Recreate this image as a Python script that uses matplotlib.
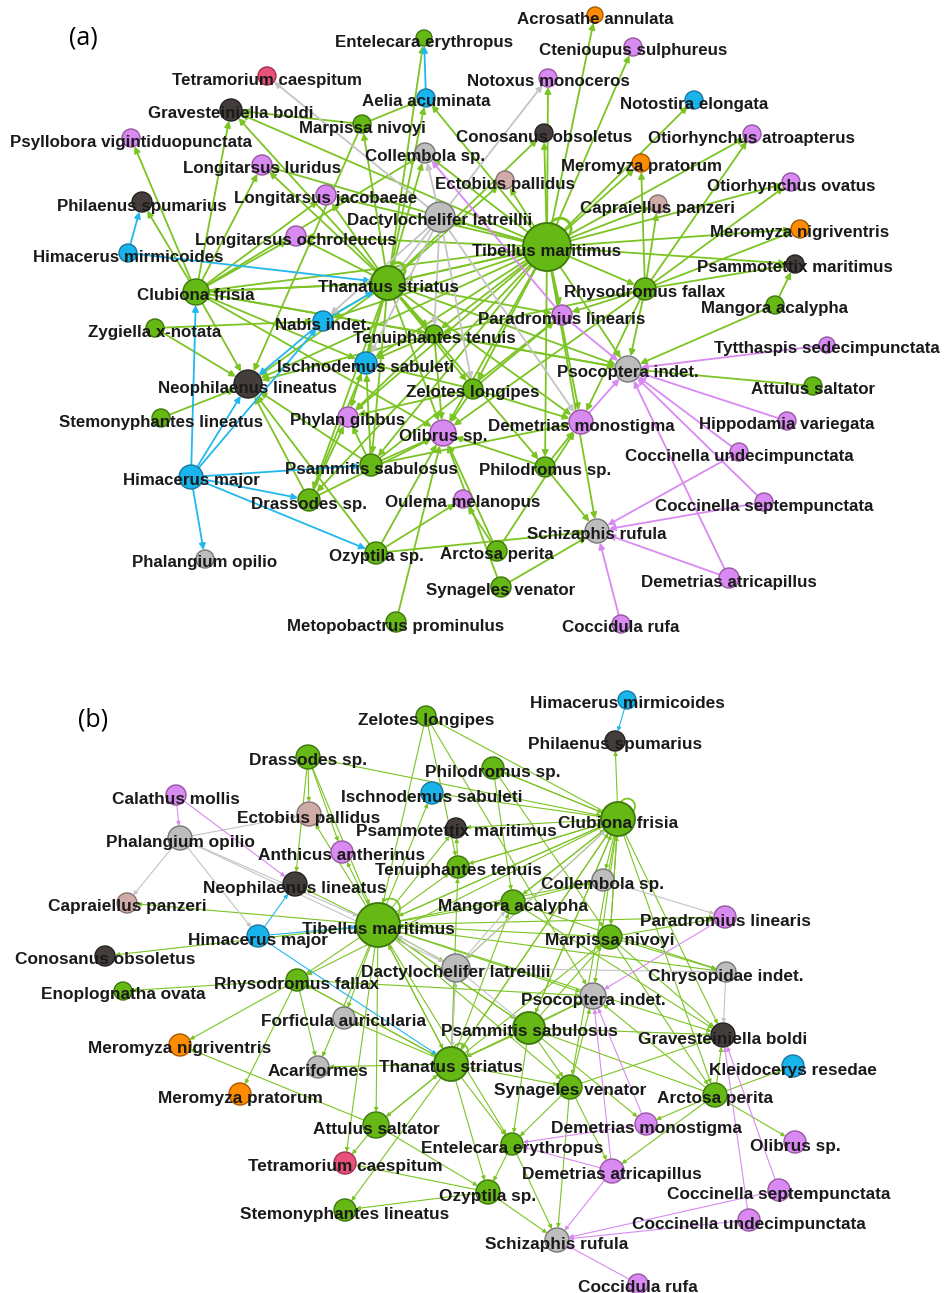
import numpy as np
import matplotlib.pyplot as plt
from matplotlib.patches import Circle

# ---------------- colours per taxon group ----------------
fill = {'g': '#66b814', 'v': '#d98af2', 'c': '#18b4ec', 'd': '#433e3b',
        'y': '#bdbdbd', 't': '#cfaca8', 'o': '#ff8c00', 'r': '#e9507a'}
rim = {'g': '#3b780c', 'v': '#96579f', 'c': '#1c77a0', 'd': '#222222',
       'y': '#777777', 't': '#8a7070', 'o': '#a85800', 'r': '#a03050'}
line = {'g': '#7cc424', 'v': '#d98af2', 'c': '#22b8ee', 'y': '#c4c4c4',
        'd': '#888888', 't': '#c4a0a0', 'o': '#ff8c00', 'r': '#e9507a'}

# ---------------- panel (a) ----------------
# name: (x, y, group, radius)   layout (pixels)
nodes_a = {
    'Acrosathe annulata': (595, 15, 'o', 8),
    'Entelecara erythropus': (424, 38, 'g', 8),
    'Ctenioupus sulphureus': (633, 47, 'v', 9),
    'Tetramorium caespitum': (267, 76, 'r', 9),
    'Notoxus monoceros': (548, 78, 'v', 9),
    'Aelia acuminata': (426, 98, 'c', 9),
    'Notostira elongata': (694, 100, 'c', 9),
    'Gravesteiniella boldi': (231, 110, 'd', 11),
    'Marpissa nivoyi': (362, 124, 'g', 9),
    'Conosanus obsoletus': (544, 133, 'd', 9),
    'Otiorhynchus atroapterus': (752, 134, 'v', 9),
    'Psyllobora vigintiduopunctata': (131, 138, 'v', 9),
    'Collembola sp.': (425, 153, 'y', 10),
    'Meromyza pratorum': (641, 163, 'o', 9),
    'Longitarsus luridus': (262, 165, 'v', 10),
    'Ectobius pallidus': (505, 180, 't', 9),
    'Otiorhynchus ovatus': (791, 182, 'v', 9),
    'Longitarsus jacobaeae': (326, 195, 'v', 10),
    'Philaenus spumarius': (142, 202, 'd', 10),
    'Capraiellus panzeri': (658, 204, 't', 9),
    'Dactylochelifer latreillii': (440, 217, 'y', 15),
    'Longitarsus ochroleucus': (296, 236, 'v', 10),
    'Meromyza nigriventris': (800, 229, 'o', 9),
    'Tibellus maritimus': (547, 247, 'g', 24),
    'Himacerus mirmicoides': (128, 253, 'c', 9),
    'Psammotettix maritimus': (795, 264, 'd', 9),
    'Thanatus striatus': (388, 283, 'g', 17),
    'Clubiona frisia': (196, 292, 'g', 13),
    'Rhysodromus fallax': (645, 289, 'g', 11),
    'Mangora acalypha': (775, 305, 'g', 9),
    'Paradromius linearis': (562, 315, 'v', 10),
    'Nabis indet.': (323, 321, 'c', 10),
    'Zygiella x-notata': (155, 328, 'g', 9),
    'Tenuiphantes tenuis': (434, 334, 'g', 9),
    'Tytthaspis sedecimpunctata': (827, 345, 'v', 8),
    'Ischnodemus sabuleti': (366, 363, 'c', 11),
    'Psocoptera indet.': (628, 369, 'y', 13),
    'Neophilaenus lineatus': (248, 384, 'd', 14),
    'Zelotes longipes': (473, 389, 'g', 10),
    'Attulus saltator': (813, 386, 'g', 9),
    'Stemonyphantes lineatus': (161, 418, 'g', 9),
    'Phylan gibbus': (348, 417, 'v', 10),
    'Olibrus sp.': (443, 433, 'v', 13),
    'Demetrias monostigma': (581, 422, 'v', 12),
    'Hippodamia variegata': (787, 421, 'v', 9),
    'Coccinella undecimpunctata': (739, 452, 'v', 9),
    'Psammitis sabulosus': (371, 465, 'g', 11),
    'Philodromus sp.': (545, 467, 'g', 10),
    'Himacerus major': (191, 477, 'c', 12),
    'Drassodes sp.': (309, 500, 'g', 11),
    'Oulema melanopus': (463, 499, 'v', 9),
    'Coccinella septempunctata': (764, 502, 'v', 9),
    'Schizaphis rufula': (597, 531, 'y', 12),
    'Ozyptila sp.': (376, 553, 'g', 11),
    'Arctosa perita': (497, 551, 'g', 10),
    'Phalangium opilio': (205, 559, 'y', 9),
    'Demetrias atricapillus': (729, 578, 'v', 10),
    'Synageles venator': (501, 587, 'g', 10),
    'Metopobactrus prominulus': (396, 622, 'g', 10),
    'Coccidula rufa': (621, 624, 'v', 9),
}

edges_a = {
    'Tibellus maritimus': ['Acrosathe annulata', 'Ctenioupus sulphureus', 'Notoxus monoceros',
        'Conosanus obsoletus', 'Meromyza pratorum', 'Notostira elongata', 'Otiorhynchus atroapterus',
        'Otiorhynchus ovatus', 'Capraiellus panzeri', 'Meromyza nigriventris', 'Psammotettix maritimus',
        'Ectobius pallidus', 'Dactylochelifer latreillii', 'Collembola sp.', 'Aelia acuminata',
        'Longitarsus luridus', 'Longitarsus jacobaeae', 'Longitarsus ochroleucus', 'Gravesteiniella boldi',
        'Thanatus striatus', 'Nabis indet.', 'Neophilaenus lineatus', 'Ischnodemus sabuleti',
        'Tenuiphantes tenuis', 'Zelotes longipes', 'Olibrus sp.', 'Phylan gibbus', 'Psammitis sabulosus',
        'Paradromius linearis', 'Demetrias monostigma', 'Psocoptera indet.', 'Philodromus sp.',
        'Drassodes sp.', 'Schizaphis rufula', 'Rhysodromus fallax'],
    'Thanatus striatus': ['Entelecara erythropus', 'Aelia acuminata', 'Collembola sp.',
        'Gravesteiniella boldi', 'Longitarsus luridus', 'Longitarsus jacobaeae', 'Longitarsus ochroleucus',
        'Marpissa nivoyi', 'Conosanus obsoletus', 'Ectobius pallidus', 'Clubiona frisia', 'Nabis indet.',
        'Neophilaenus lineatus', 'Ischnodemus sabuleti', 'Tenuiphantes tenuis', 'Olibrus sp.',
        'Phylan gibbus', 'Zelotes longipes', 'Psammitis sabulosus', 'Drassodes sp.',
        'Demetrias monostigma', 'Psocoptera indet.', 'Paradromius linearis', 'Tibellus maritimus',
        'Philodromus sp.'],
    'Clubiona frisia': ['Psyllobora vigintiduopunctata', 'Philaenus spumarius', 'Gravesteiniella boldi',
        'Longitarsus luridus', 'Longitarsus jacobaeae', 'Longitarsus ochroleucus', 'Collembola sp.',
        'Neophilaenus lineatus', 'Ischnodemus sabuleti', 'Tenuiphantes tenuis', 'Olibrus sp.',
        'Psocoptera indet.', 'Tibellus maritimus', 'Thanatus striatus'],
    'Rhysodromus fallax': ['Meromyza pratorum', 'Capraiellus panzeri', 'Otiorhynchus atroapterus',
        'Otiorhynchus ovatus', 'Meromyza nigriventris', 'Psammotettix maritimus', 'Psocoptera indet.',
        'Demetrias monostigma', 'Olibrus sp.', 'Paradromius linearis', 'Tenuiphantes tenuis'],
    'Mangora acalypha': ['Psammotettix maritimus', 'Psocoptera indet.'],
    'Attulus saltator': ['Psocoptera indet.'],
    'Zygiella x-notata': ['Nabis indet.', 'Neophilaenus lineatus'],
    'Stemonyphantes lineatus': ['Neophilaenus lineatus'],
    'Marpissa nivoyi': ['Gravesteiniella boldi', 'Neophilaenus lineatus', 'Aelia acuminata'],
    'Tenuiphantes tenuis': ['Neophilaenus lineatus', 'Ischnodemus sabuleti', 'Olibrus sp.',
        'Psocoptera indet.', 'Phylan gibbus'],
    'Zelotes longipes': ['Ischnodemus sabuleti', 'Olibrus sp.', 'Demetrias monostigma', 'Phylan gibbus',
        'Paradromius linearis'],
    'Psammitis sabulosus': ['Olibrus sp.', 'Phylan gibbus', 'Neophilaenus lineatus',
        'Ischnodemus sabuleti', 'Demetrias monostigma', 'Paradromius linearis'],
    'Drassodes sp.': ['Phylan gibbus', 'Neophilaenus lineatus', 'Olibrus sp.', 'Ischnodemus sabuleti'],
    'Philodromus sp.': ['Demetrias monostigma', 'Olibrus sp.', 'Schizaphis rufula'],
    'Ozyptila sp.': ['Olibrus sp.', 'Oulema melanopus', 'Schizaphis rufula', 'Neophilaenus lineatus'],
    'Arctosa perita': ['Olibrus sp.', 'Demetrias monostigma', 'Oulema melanopus'],
    'Synageles venator': ['Schizaphis rufula', 'Olibrus sp.'],
    'Metopobactrus prominulus': ['Olibrus sp.'],
    'Himacerus major': ['Neophilaenus lineatus', 'Nabis indet.', 'Psammitis sabulosus', 'Drassodes sp.',
        'Ozyptila sp.', 'Phalangium opilio', 'Clubiona frisia'],
    'Himacerus mirmicoides': ['Philaenus spumarius', 'Thanatus striatus'],
    'Nabis indet.': ['Neophilaenus lineatus', 'Thanatus striatus'],
    'Dactylochelifer latreillii': ['Tetramorium caespitum', 'Notoxus monoceros', 'Collembola sp.',
        'Thanatus striatus', 'Nabis indet.', 'Ischnodemus sabuleti', 'Tenuiphantes tenuis',
        'Zelotes longipes', 'Demetrias monostigma'],
    'Aelia acuminata': ['Entelecara erythropus'],
    'Paradromius linearis': ['Psocoptera indet.', 'Collembola sp.'],
    'Demetrias monostigma': ['Psocoptera indet.'],
    'Tytthaspis sedecimpunctata': ['Psocoptera indet.'],
    'Hippodamia variegata': ['Psocoptera indet.'],
    'Coccinella undecimpunctata': ['Psocoptera indet.', 'Schizaphis rufula'],
    'Coccinella septempunctata': ['Psocoptera indet.', 'Schizaphis rufula'],
    'Demetrias atricapillus': ['Psocoptera indet.', 'Schizaphis rufula'],
    'Coccidula rufa': ['Schizaphis rufula'],
}
loops_a = ['Tibellus maritimus', 'Thanatus striatus']

# ---------------- panel (b) ----------------
nodes_b = {
    'Himacerus mirmicoides': (627, 700, 'c', 9),
    'Zelotes longipes': (426, 716, 'g', 10),
    'Philaenus spumarius': (615, 741, 'd', 10),
    'Drassodes sp.': (308, 757, 'g', 12),
    'Philodromus sp.': (493, 768, 'g', 11),
    'Calathus mollis': (176, 795, 'v', 10),
    'Ischnodemus sabuleti': (432, 793, 'c', 11),
    'Clubiona frisia': (618, 819, 'g', 17),
    'Ectobius pallidus': (309, 814, 't', 12),
    'Psammotettix maritimus': (456, 828, 'd', 10),
    'Phalangium opilio': (180, 838, 'y', 12),
    'Anthicus antherinus': (342, 852, 'v', 11),
    'Tenuiphantes tenuis': (458, 867, 'g', 11),
    'Collembola sp.': (603, 880, 'y', 11),
    'Neophilaenus lineatus': (295, 884, 'd', 12),
    'Capraiellus panzeri': (127, 903, 't', 10),
    'Mangora acalypha': (513, 902, 'g', 12),
    'Paradromius linearis': (725, 917, 'v', 11),
    'Tibellus maritimus': (378, 925, 'g', 22),
    'Himacerus major': (258, 936, 'c', 11),
    'Marpissa nivoyi': (610, 937, 'g', 12),
    'Conosanus obsoletus': (105, 956, 'd', 10),
    'Dactylochelifer latreillii': (456, 968, 'y', 14),
    'Chrysopidae indet.': (726, 972, 'y', 10),
    'Enoplognatha ovata': (123, 991, 'g', 9),
    'Rhysodromus fallax': (297, 980, 'g', 11),
    'Psocoptera indet.': (593, 996, 'y', 13),
    'Forficula auricularia': (344, 1018, 'y', 11),
    'Psammitis sabulosus': (529, 1028, 'g', 16),
    'Gravesteiniella boldi': (723, 1035, 'd', 12),
    'Meromyza nigriventris': (180, 1045, 'o', 11),
    'Thanatus striatus': (451, 1064, 'g', 17),
    'Acariformes': (318, 1067, 'y', 11),
    'Kleidocerys resedae': (793, 1066, 'c', 11),
    'Meromyza pratorum': (240, 1094, 'o', 11),
    'Synageles venator': (570, 1087, 'g', 12),
    'Arctosa perita': (715, 1095, 'g', 12),
    'Attulus saltator': (376, 1125, 'g', 13),
    'Demetrias monostigma': (646, 1124, 'v', 11),
    'Entelecara erythropus': (512, 1144, 'g', 11),
    'Olibrus sp.': (795, 1142, 'v', 11),
    'Tetramorium caespitum': (345, 1163, 'r', 11),
    'Demetrias atricapillus': (612, 1171, 'v', 12),
    'Coccinella septempunctata': (779, 1190, 'v', 11),
    'Ozyptila sp.': (488, 1192, 'g', 12),
    'Stemonyphantes lineatus': (345, 1210, 'g', 11),
    'Coccinella undecimpunctata': (749, 1220, 'v', 11),
    'Schizaphis rufula': (557, 1240, 'y', 12),
    'Coccidula rufa': (638, 1284, 'v', 10),
}

edges_b = {
    'Tibellus maritimus': ['Ectobius pallidus', 'Anthicus antherinus', 'Neophilaenus lineatus',
        'Psammotettix maritimus', 'Tenuiphantes tenuis', 'Mangora acalypha', 'Clubiona frisia',
        'Collembola sp.', 'Marpissa nivoyi', 'Paradromius linearis', 'Dactylochelifer latreillii',
        'Psocoptera indet.', 'Psammitis sabulosus', 'Thanatus striatus', 'Rhysodromus fallax',
        'Forficula auricularia', 'Acariformes', 'Attulus saltator', 'Tetramorium caespitum',
        'Entelecara erythropus', 'Synageles venator', 'Gravesteiniella boldi', 'Conosanus obsoletus',
        'Capraiellus panzeri', 'Ischnodemus sabuleti', 'Chrysopidae indet.'],
    'Clubiona frisia': ['Philaenus spumarius', 'Philodromus sp.', 'Ischnodemus sabuleti',
        'Psammotettix maritimus', 'Tenuiphantes tenuis', 'Mangora acalypha', 'Collembola sp.',
        'Marpissa nivoyi', 'Dactylochelifer latreillii', 'Psocoptera indet.', 'Psammitis sabulosus',
        'Thanatus striatus', 'Tibellus maritimus', 'Synageles venator', 'Arctosa perita',
        'Gravesteiniella boldi', 'Rhysodromus fallax', 'Zelotes longipes'],
    'Drassodes sp.': ['Ectobius pallidus', 'Anthicus antherinus', 'Neophilaenus lineatus',
        'Tibellus maritimus', 'Clubiona frisia'],
    'Zelotes longipes': ['Tibellus maritimus', 'Tenuiphantes tenuis', 'Psocoptera indet.'],
    'Philodromus sp.': ['Clubiona frisia', 'Mangora acalypha', 'Marpissa nivoyi'],
    'Thanatus striatus': ['Tibellus maritimus', 'Rhysodromus fallax', 'Forficula auricularia',
        'Acariformes', 'Attulus saltator', 'Stemonyphantes lineatus', 'Ozyptila sp.',
        'Entelecara erythropus', 'Synageles venator', 'Psammitis sabulosus', 'Psocoptera indet.',
        'Marpissa nivoyi', 'Clubiona frisia', 'Mangora acalypha', 'Tenuiphantes tenuis',
        'Dactylochelifer latreillii'],
    'Psammitis sabulosus': ['Psocoptera indet.', 'Gravesteiniella boldi', 'Synageles venator',
        'Thanatus striatus', 'Demetrias monostigma', 'Entelecara erythropus', 'Marpissa nivoyi',
        'Clubiona frisia', 'Tibellus maritimus'],
    'Rhysodromus fallax': ['Meromyza nigriventris', 'Meromyza pratorum', 'Acariformes',
        'Psocoptera indet.', 'Thanatus striatus', 'Enoplognatha ovata'],
    'Attulus saltator': ['Meromyza nigriventris', 'Tetramorium caespitum', 'Thanatus striatus',
        'Ozyptila sp.'],
    'Arctosa perita': ['Gravesteiniella boldi', 'Kleidocerys resedae', 'Olibrus sp.',
        'Demetrias monostigma', 'Demetrias atricapillus', 'Psocoptera indet.', 'Psammitis sabulosus'],
    'Synageles venator': ['Demetrias atricapillus', 'Entelecara erythropus', 'Schizaphis rufula',
        'Gravesteiniella boldi', 'Psocoptera indet.'],
    'Entelecara erythropus': ['Schizaphis rufula', 'Ozyptila sp.'],
    'Ozyptila sp.': ['Schizaphis rufula', 'Stemonyphantes lineatus', 'Tetramorium caespitum'],
    'Marpissa nivoyi': ['Paradromius linearis', 'Clubiona frisia', 'Chrysopidae indet.',
        'Gravesteiniella boldi', 'Arctosa perita'],
    'Mangora acalypha': ['Clubiona frisia', 'Chrysopidae indet.', 'Collembola sp.',
        'Gravesteiniella boldi'],
    'Tenuiphantes tenuis': ['Clubiona frisia', 'Psammotettix maritimus'],
    'Phalangium opilio': ['Capraiellus panzeri', 'Himacerus major', 'Ectobius pallidus',
        'Tibellus maritimus', 'Dactylochelifer latreillii'],
    'Dactylochelifer latreillii': ['Clubiona frisia', 'Psammitis sabulosus', 'Tibellus maritimus',
        'Mangora acalypha', 'Chrysopidae indet.', 'Thanatus striatus'],
    'Chrysopidae indet.': ['Gravesteiniella boldi'],
    'Himacerus mirmicoides': ['Philaenus spumarius'],
    'Himacerus major': ['Neophilaenus lineatus', 'Tibellus maritimus', 'Thanatus striatus'],
    'Calathus mollis': ['Phalangium opilio', 'Neophilaenus lineatus'],
    'Collembola sp.': ['Paradromius linearis'],
    'Paradromius linearis': ['Psocoptera indet.'],
    'Demetrias monostigma': ['Psocoptera indet.', 'Entelecara erythropus'],
    'Demetrias atricapillus': ['Psocoptera indet.', 'Schizaphis rufula', 'Entelecara erythropus'],
    'Coccinella septempunctata': ['Gravesteiniella boldi', 'Schizaphis rufula'],
    'Coccinella undecimpunctata': ['Gravesteiniella boldi', 'Schizaphis rufula'],
    'Coccidula rufa': ['Schizaphis rufula'],
}
loops_b = ['Clubiona frisia', 'Tibellus maritimus', 'Thanatus striatus']


def draw_net(ax, nodes, edges, loops, lw, head, fs):
    for src, targets in edges.items():
        x0, y0, g0, r0 = nodes[src]
        for t in targets:
            x1, y1, g1, r1 = nodes[t]
            d = np.hypot(x1 - x0, y1 - y0)
            ux, uy = (x1 - x0) / d, (y1 - y0) / d
            ax.annotate('', xy=(x1 - ux * r1, y1 - uy * r1), xytext=(x0 + ux * r0, y0 + uy * r0),
                        arrowprops=dict(arrowstyle='-|>', color=line[g0], lw=lw,
                                        mutation_scale=head, shrinkA=0, shrinkB=0),
                        zorder=1)
    for n in loops:
        x, y, g, r = nodes[n]
        ax.add_patch(Circle((x + 0.55 * r, y - 0.75 * r), 0.45 * r, fill=False,
                            ec=line[g], lw=lw * 1.6, zorder=1.5))
    for n, (x, y, g, r) in nodes.items():
        ax.add_patch(Circle((x, y), r, fc=fill[g], ec=rim[g], lw=1.3 if r > 15 else 1.0, zorder=2))
        ax.text(x, y + 4, n, ha='center', va='center', fontsize=fs, fontweight='bold',
                family='Liberation Sans', color='#1a1a1a', zorder=3)


fig = plt.figure(figsize=(9.49, 12.93), dpi=100)
ax = fig.add_axes([0, 0, 1, 1])
ax.set_xlim(0, 949)
ax.set_ylim(1293, 0)
ax.set_aspect('equal')
ax.axis('off')

draw_net(ax, nodes_a, edges_a, loops_a, 1.3, 9, 12.2)
draw_net(ax, nodes_b, edges_b, loops_b, 0.8, 6, 12.4)

ax.text(83, 38, '(a)', fontsize=18, ha='center', va='center', family='Open Sans')
ax.text(93, 720, '(b)', fontsize=18, ha='center', va='center', family='Open Sans')

fig.savefig('out.png', dpi=100)
